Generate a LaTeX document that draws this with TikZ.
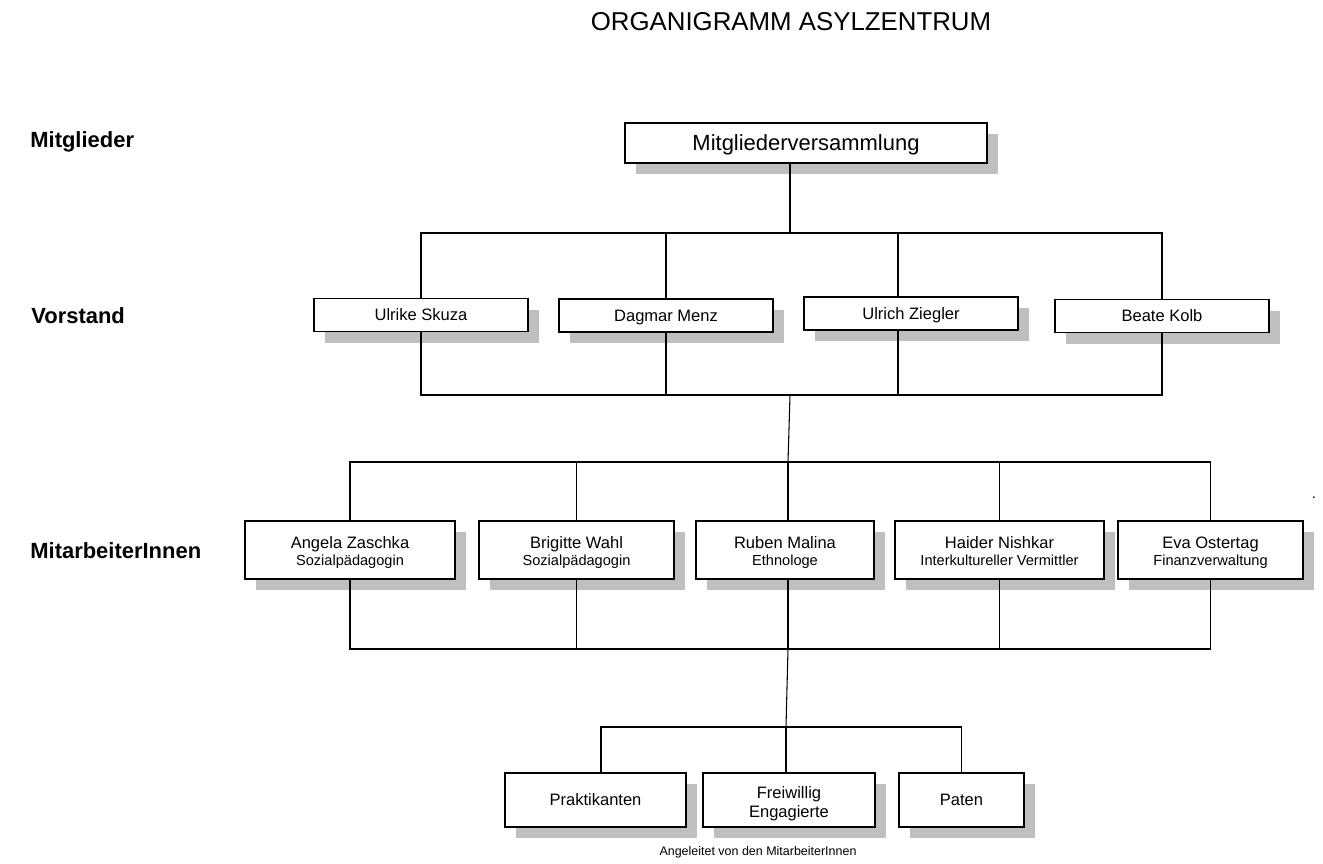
\documentclass[tikz,border=0pt]{standalone}
\usepackage{fontspec}
\setmainfont{Liberation Sans}
\usetikzlibrary{shadows}

\newcommand\fsTitle{\fontsize{14.7}{17}\selectfont}
\newcommand\fsLevel{\fontsize{12.5}{14}\selectfont}
\newcommand\fsTop{\fontsize{12.5}{14}\selectfont}
\newcommand\fsName{\fontsize{9.4}{9.7}\selectfont}
\newcommand\fsSub{\fontsize{8.3}{9.7}\selectfont}
\newcommand\fsTwo{\fontsize{9.4}{11.3}\selectfont}
\newcommand\fsNote{\fontsize{7.1}{8.5}\selectfont}

\begin{document}
\begin{tikzpicture}[x=0.02cm, y=-0.02cm,
        box/.style={draw, line width=0.85pt, fill=white, align=center, inner sep=0pt,
            general shadow={fill=black!25, draw=none, shadow xshift=0.22cm, shadow yshift=-0.22cm}},
        vbox/.style={box, minimum width=4.28cm, minimum height=0.66cm, font=\fsName,
            text height=8.7pt, text depth=2pt},
        mbox/.style={box, minimum height=1.16cm, font=\fsName,
            text height=20.1pt, text depth=2pt},
        hbox/.style={box, minimum height=1.08cm, font=\fsName,
            text height=8.7pt, text depth=2pt},
        level/.style={anchor=west, inner sep=0pt, font=\fsLevel\bfseries},
        link/.style={line width=0.6pt},
        ]
        \useasboundingbox (0,0) rectangle (1323,863);

        % Title and levels
        \node[font=\fsTitle] (title) at (791,22) {ORGANIGRAMM ASYLZENTRUM};
        \node[level] (lmg) at (30,142) {Mitglieder};
        \node[level] (lvs) at (31,316) {Vorstand};
        \node[level] (lma) at (30,551) {MitarbeiterInnen};

        % Mitglieder
        \node[box, minimum width=7.24cm, minimum height=0.8cm, font=\fsTop,
            text height=11.45pt, text depth=2.5pt] (mv) at (806,143) {Mitgliederversammlung};

        % Vorstand
        \node[vbox] (us) at (421,315) {Ulrike Skuza};
        \node[vbox] (dm) at (666,315.5) {Dagmar Menz};
        \node[vbox] (uz) at (911,313.5) {Ulrich Ziegler};
        \node[vbox] (bk) at (1162,316) {Beate Kolb};

        % MitarbeiterInnen
        \node[mbox, minimum width=4.2cm] (az) at (350,550) {Angela Zaschka\\{\fsSub Sozialpädagogin}};
        \node[mbox, minimum width=3.9cm] (bw) at (576.5,550) {Brigitte Wahl\\{\fsSub Sozialpädagogin}};
        \node[mbox, minimum width=3.56cm] (rm) at (785,550) {Ruben Malina\\{\fsSub Ethnologe}};
        \node[mbox, minimum width=4.18cm] (hn) at (999.5,550) {Haider Nishkar\\{\fsSub Interkultureller Vermittler}};
        \node[mbox, minimum width=3.7cm] (eo) at (1210.5,550) {Eva Ostertag\\{\fsSub Finanzverwaltung}};
        \node[font=\fsSub, inner sep=0pt] (dot) at (1314,498) {.};

        % Helfer
        \node[hbox, minimum width=3.62cm] (pr) at (595.5,800) {Praktikanten};
        \node[hbox, minimum width=3.44cm, font=\fsTwo, text height=22.4pt] (fe) at (789,800) {Freiwillig\\Engagierte};
        \node[hbox, minimum width=2.5cm] (pa) at (961.5,800) {Paten};
        \node[font=\fsNote] (note) at (758,852) {Angeleitet von den MitarbeiterInnen};

        % Junctions
        \coordinate (v1) at (790,233);
        \coordinate (v2) at (790,395);
        \coordinate (uzl) at (898,233);
        \coordinate (m1) at (788,462);
        \coordinate (m2) at (788,649);
        \coordinate (h1) at (786,727);
        \coordinate (prl) at (601,727);

        % Mitglieder to Vorstand
        \draw[link] (mv.south -| v1) -- (v1);
        \draw[link] (us.north) |- (v1) -| (bk.north);
        \draw[link] (dm.north) -- (dm.north |- v1);
        \draw[link] (uzl) -- (uzl |- uz.north);
        \draw[link] (us.south) |- (v2) -| (bk.south);
        \draw[link] (dm.south) -- (dm.south |- v2);
        \draw[link] (uzl |- uz.south) -- (uzl |- v2);

        % Vorstand to MitarbeiterInnen
        \draw[link] (v2) -- (m1);
        \draw[link] (az.north) |- (m1) -| (eo.north);
        \draw[link] (bw.north) -- (bw.north |- m1);
        \draw[link] (m1) -- (m1 |- rm.north);
        \draw[link] (hn.north) -- (hn.north |- m1);
        \draw[link] (az.south) |- (m2) -| (eo.south);
        \draw[link] (bw.south) -- (bw.south |- m2);
        \draw[link] (m1 |- rm.south) -- (m2);
        \draw[link] (hn.south) -- (hn.south |- m2);

        % MitarbeiterInnen to Helfer
        \draw[link] (m2) -- (h1);
        \draw[link] (prl |- pr.north) -- (prl) -- (h1) -| (pa.north);
        \draw[link] (h1) -- (h1 |- fe.north);

    \end{tikzpicture}
\end{document}
